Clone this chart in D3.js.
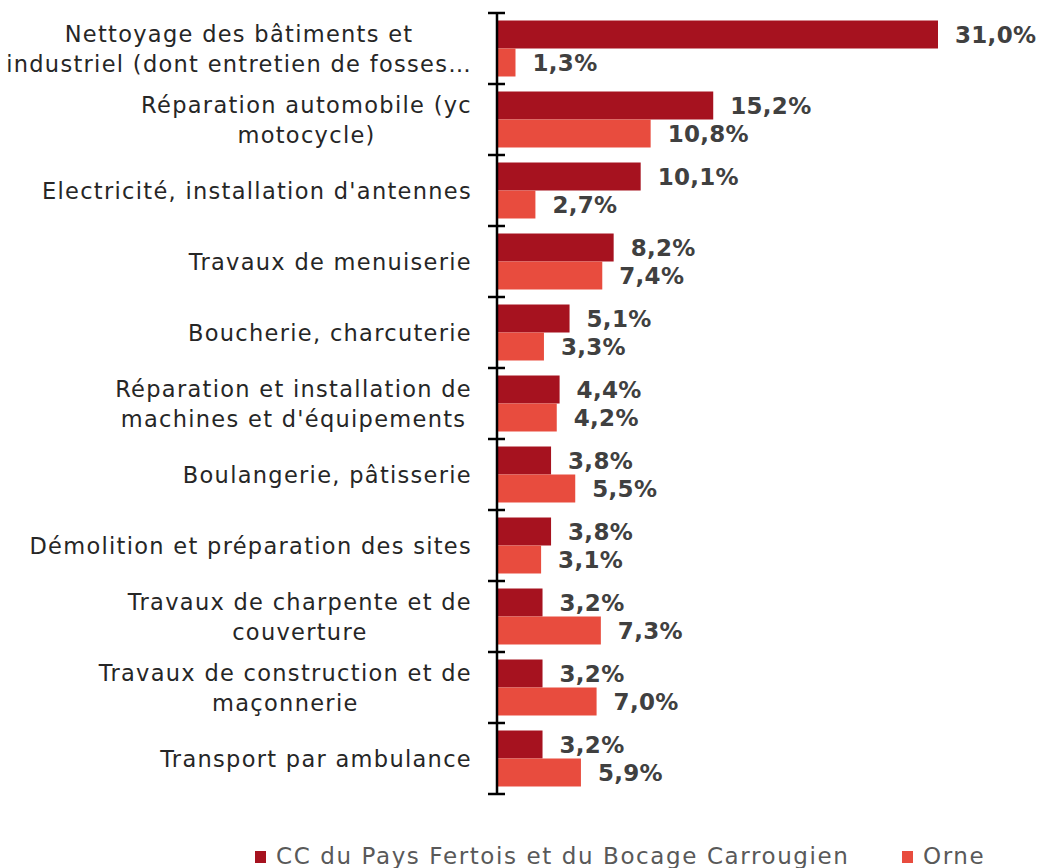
<!DOCTYPE html>
<meta charset="utf-8">
<style>
html, body {
  margin: 0;
  padding: 0;
  background: #fff;
}
svg {
  display: block;
  font-family: "DejaVu Sans", sans-serif;
}
.cat-label {
  font-size: 22.5px;
  letter-spacing: 1.3px;
  fill: #262626;
}
.val-label {
  font-size: 23px;
  font-weight: bold;
  letter-spacing: 0.3px;
  fill: #404040;
}
.legend-label {
  font-size: 23px;
  letter-spacing: 1.6px;
  fill: #595959;
}
</style>
<svg width="1043" height="868"></svg>
<script src="https://cdn.jsdelivr.net/npm/d3@7"></script>
<script>
// categories (line breaks as in the original chart)
const categories = [
  "Nettoyage des bâtiments et\nindustriel (dont entretien de fosses…",
  "Réparation automobile (yc\nmotocycle)",
  "Electricité, installation d'antennes",
  "Travaux de menuiserie",
  "Boucherie, charcuterie",
  "Réparation et installation de\nmachines et d'équipements",
  "Boulangerie, pâtisserie",
  "Démolition et préparation des sites",
  "Travaux de charpente et de\ncouverture",
  "Travaux de construction et de\nmaçonnerie",
  "Transport par ambulance"
];
const seriesNames = ["CC du Pays Fertois et du Bocage Carrougien", "Orne"];
const ccValues = [31.0, 15.2, 10.1, 8.2, 5.1, 4.4, 3.8, 3.8, 3.2, 3.2, 3.2];
const orneValues = [1.3, 10.8, 2.7, 7.4, 3.3, 4.2, 5.5, 3.1, 7.3, 7.0, 5.9];
const colors = ["#a6121f", "#e84c3e"];

const svg = d3.select('svg');
const fmt = v => d3.format('.1f')(v).replace('.', ',') + '%';

const rows = categories.map((c, i) => ({cat: c, values: [ccValues[i], orneValues[i]]}));

const x = d3.scaleLinear()
  .domain([0, 31])
  .range([497, 938]);

const y = d3.scaleBand()
  .domain(categories)
  .range([13, 794]);

const ySub = d3.scaleBand()
  .domain(d3.range(seriesNames.length))
  .range([0, y.bandwidth()])
  .paddingOuter(0.268);

// bars
const groups = svg.append('g')
  .attr('class', 'bars')
  .selectAll('g')
  .data(rows)
  .enter()
  .append('g')
  .attr('transform', d => `translate(0,${y(d.cat)})`);

groups.selectAll('rect')
  .data(d => d.values)
  .enter()
  .append('rect')
  .attr('x', x(0))
  .attr('y', (d, i) => ySub(i))
  .attr('width', d => x(d) - x(0))
  .attr('height', ySub.bandwidth())
  .attr('fill', (d, i) => colors[i]);

groups.selectAll('text')
  .data(d => d.values)
  .enter()
  .append('text')
  .attr('class', 'val-label')
  .attr('x', d => x(d) + 17)
  .attr('y', (d, i) => ySub(i) + ySub.bandwidth() / 2)
  .attr('dy', '0.36em')
  .text(fmt);

// axis: line with ticks crossing it at band edges
const axis = svg.append('g').attr('class', 'axis');
axis.append('line')
  .attr('x1', x(0)).attr('x2', x(0))
  .attr('y1', y.range()[0]).attr('y2', y.range()[1])
  .attr('stroke', '#000')
  .attr('stroke-width', 2.5);
const tickYs = categories.map(c => y(c)).concat([y.range()[1]]);
axis.selectAll('.tick')
  .data(tickYs)
  .enter()
  .append('line')
  .attr('class', 'tick')
  .attr('x1', x(0) - 9).attr('x2', x(0) + 8)
  .attr('y1', d => d).attr('y2', d => d)
  .attr('stroke', '#000')
  .attr('stroke-width', 2.5);

// category labels: block right-aligned, lines centered inside block
const labelRight = 472;
const lineGap = 30;
const labels = svg.append('g').attr('class', 'cat-labels');
categories.forEach(c => {
  const lines = c.split('\n');
  const t = labels.append('text')
    .attr('class', 'cat-label')
    .attr('text-anchor', 'middle');
  const cy = y(c) + y.bandwidth() / 2;
  lines.forEach((ln, i) => {
    t.append('tspan')
      .attr('y', cy + (i - (lines.length - 1) / 2) * lineGap)
      .attr('dy', '0.36em')
      .text(ln);
  });
  let maxW = 0;
  t.selectAll('tspan').each(function () {
    maxW = Math.max(maxW, this.getComputedTextLength());
  });
  t.selectAll('tspan').attr('x', labelRight - maxW / 2);
});

// legend
const legendPos = [255, 902];
const legend = svg.append('g').attr('class', 'legend');
seriesNames.forEach((name, i) => {
  legend.append('rect')
    .attr('x', legendPos[i])
    .attr('y', 851)
    .attr('width', 11)
    .attr('height', 12)
    .attr('fill', colors[i]);
  legend.append('text')
    .attr('class', 'legend-label')
    .attr('x', legendPos[i] + 21)
    .attr('y', 864)
    .text(name);
});
</script>
